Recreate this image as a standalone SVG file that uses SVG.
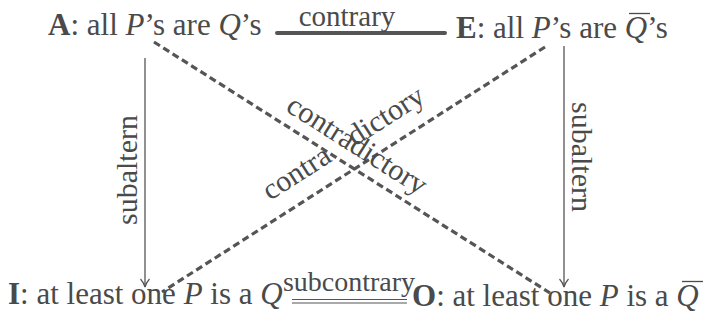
<svg xmlns="http://www.w3.org/2000/svg" width="710" height="325" viewBox="0 0 710 325">
<defs>
<style>
text{font-family:"Liberation Serif","Times New Roman",serif;fill:#4a4a4a}
.n{font-size:31px}
.l{font-size:30px}
.b{font-weight:bold}
.i{font-style:italic}
.c{stroke:#555;fill:none}
.dash{stroke:#555;stroke-width:3.2;stroke-dasharray:7 4;fill:none}
.ov{stroke:#4a4a4a;stroke-width:1.3}
</style>
<marker id="ar" viewBox="0 0 12 12" refX="10" refY="6" markerWidth="12" markerHeight="12" markerUnits="userSpaceOnUse" orient="auto">
<path d="M2,1.5 Q6,5 10,6 Q6,7 2,10.5" fill="none" stroke="#555" stroke-width="1.2"/>
</marker>
</defs>
<rect width="710" height="325" fill="#fff"/>
<g id="connectors">
<line class="c" x1="277" y1="33" x2="445" y2="33" stroke-width="4" stroke-linecap="round"/>
<text class="l" x="347" y="26" text-anchor="middle" style="font-size:29px">contrary</text>
<line class="c" x1="292" y1="299.5" x2="407" y2="299.5" stroke-width="1.2"/>
<line class="c" x1="292" y1="303" x2="407" y2="303" stroke-width="1.2"/>
<text class="l" x="349" y="291" text-anchor="middle" style="font-size:28px">subcontrary</text>
<line class="c" x1="145" y1="58" x2="145" y2="287" stroke-width="1.3" marker-end="url(#ar)"/>
<text class="l" transform="translate(137,170) rotate(-90)" text-anchor="middle">subaltern</text>
<line class="c" x1="564" y1="46" x2="564" y2="287" stroke-width="1.3" marker-end="url(#ar)"/>
<text class="l" transform="translate(572,157) rotate(90)" text-anchor="middle">subaltern</text>
<line class="dash" x1="154" y1="42" x2="550" y2="293"/>
<line class="dash" x1="545" y1="47" x2="162" y2="292"/>
<text class="l" transform="translate(352,153) rotate(32.4)" text-anchor="middle">contradictory</text>
<text class="l" transform="translate(270,201) rotate(-32.6)">contra<tspan dx="26">dictory</tspan></text>
</g>
<g id="A">
<text class="n" x="48" y="35"><tspan class="b">A</tspan>: all <tspan class="i">P</tspan>’s are <tspan class="i">Q</tspan>’s</text>
</g>
<g id="E">
<text class="n" x="456" y="38"><tspan class="b">E</tspan>: all <tspan class="i">P</tspan>’s are <tspan class="i">Q</tspan>’s</text>
<line class="ov" x1="629" y1="13.5" x2="650" y2="13.5"/>
</g>
<g id="I">
<text class="n" x="8" y="304"><tspan class="b">I</tspan>: at least one <tspan class="i">P</tspan> is a <tspan class="i">Q</tspan></text>
</g>
<g id="O">
<text class="n" x="412" y="306"><tspan class="b">O</tspan>: at least one <tspan class="i">P</tspan> is a <tspan class="i">Q</tspan></text>
<line class="ov" x1="682" y1="281.5" x2="703" y2="281.5"/>
</g>
</svg>
